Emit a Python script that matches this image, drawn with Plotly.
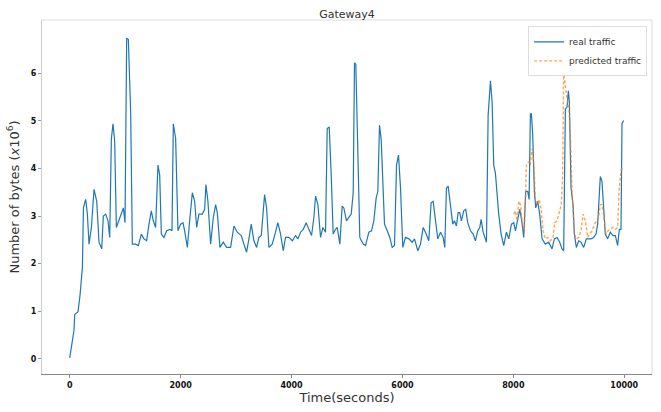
import plotly.graph_objects as go

# ---- data ----
real_t = [0, 36, 77, 90, 150, 186, 211, 229, 247, 288, 318, 348, 391, 438, 487, 528, 577, 606, 649, 690,
          721, 751, 781, 811, 841, 889, 931, 967, 997, 1027, 1057, 1099, 1129, 1189, 1237, 1291, 1339, 1387,
          1429, 1471, 1507, 1549, 1591, 1622, 1652, 1699, 1748, 1808, 1844, 1868, 1910, 1952, 2000, 2042,
          2072, 2121, 2168, 2211, 2253, 2289, 2330, 2391, 2433, 2456, 2492, 2541, 2589, 2631, 2661, 2709,
          2769, 2829, 2901, 2961, 3021, 3093, 3141, 3189, 3231, 3273, 3321, 3370, 3411, 3454, 3514, 3550,
          3592, 3652, 3711, 3753, 3802, 3850, 3892, 3952, 4013, 4073, 4114, 4163, 4211, 4264, 4312, 4361,
          4403, 4433, 4475, 4523, 4565, 4613, 4643, 4679, 4715, 4751, 4793, 4823, 4871, 4913, 4943, 4991,
          5033, 5076, 5112, 5135, 5159, 5184, 5231, 5292, 5334, 5394, 5442, 5484, 5526, 5556, 5586, 5617,
          5647, 5676, 5725, 5772, 5815, 5857, 5893, 5929, 5965, 6006, 6055, 6115, 6175, 6217, 6277, 6325,
          6373, 6415, 6475, 6517, 6553, 6595, 6637, 6686, 6734, 6763, 6793, 6824, 6865, 6907, 6937, 6973,
          7004, 7033, 7063, 7105, 7141, 7177, 7226, 7274, 7316, 7358, 7394, 7419, 7455, 7515, 7545, 7587,
          7617, 7646, 7676, 7706, 7736, 7779, 7826, 7875, 7917, 7965, 8007, 8037, 8079, 8115, 8151, 8187,
          8223, 8259, 8284, 8307, 8325, 8348, 8379, 8403, 8439, 8475, 8518, 8577, 8637, 8698, 8739, 8788,
          8835, 8878, 8907, 8938, 8968, 8992, 9010, 9040, 9076, 9100, 9136, 9178, 9221, 9268, 9316, 9358,
          9400, 9448, 9490, 9520, 9550, 9568, 9598, 9628, 9658, 9700, 9748, 9797, 9839, 9881, 9911, 9941,
          9959, 9988]
real_v = [0.02, 0.26, 0.60, 0.93, 0.99, 1.34, 1.65, 1.93, 3.17, 3.35, 3.04, 2.41, 2.76, 3.56, 3.31, 2.45, 2.31, 3.00, 3.04, 2.90,
          2.55, 4.63, 4.94, 4.56, 2.76, 2.93, 3.07, 3.17, 2.86, 6.74, 6.71, 5.18, 2.41, 2.41, 2.38, 2.62, 2.52, 2.48,
          2.83, 3.11, 2.90, 2.76, 4.07, 3.87, 2.62, 2.55, 2.69, 2.72, 2.69, 4.94, 4.63, 2.69, 2.83, 2.86,
          2.69, 2.34, 2.97, 3.49, 3.31, 2.76, 3.04, 3.04, 3.14, 3.66, 3.31, 2.41, 2.97, 3.24, 3.07, 2.34,
          2.45, 2.34, 2.34, 2.79, 2.66, 2.59, 2.41, 2.24, 2.52, 2.83, 2.48, 2.34, 2.55, 2.59, 3.45, 3.17,
          2.34, 2.41, 2.66, 2.86, 2.62, 2.27, 2.55, 2.55, 2.48, 2.59, 2.52, 2.66, 2.72, 2.86, 2.72, 2.59,
          2.97, 3.42, 3.24, 2.55, 2.76, 2.66, 4.84, 4.87, 3.87, 2.62, 2.72, 2.76, 2.41, 3.21, 3.17, 2.90,
          2.97, 3.04, 3.49, 6.22, 6.19, 5.11, 2.55, 2.41, 2.38, 2.66, 2.69, 2.90, 3.38, 3.52, 4.91, 4.60,
          3.66, 2.83, 2.69, 2.55, 2.34, 2.38, 4.07, 4.28, 3.59, 2.34, 2.55, 2.52, 2.45, 2.52, 2.27, 2.41,
          2.76, 2.66, 2.48, 3.28, 3.31, 2.90, 2.52, 2.66, 2.55, 2.34, 3.59, 3.63, 3.24, 2.83, 2.90, 2.79,
          3.07, 3.07, 2.90, 3.11, 3.14, 2.86, 2.69, 2.62, 2.48, 2.69, 2.76, 2.93, 2.66, 2.45, 5.11, 5.84,
          5.39, 4.07, 3.90, 3.45, 3.04, 2.62, 2.38, 2.66, 2.52, 2.83, 2.86, 2.69, 2.90, 3.14, 2.90, 2.55,
          3.52, 3.52, 3.35, 5.15, 5.15, 4.73, 3.52, 3.17, 3.31, 3.04, 2.52, 2.41, 2.45, 2.31, 2.52, 2.55,
          2.45, 2.31, 2.27, 5.25, 5.29, 5.63, 5.39, 3.59, 3.24, 2.62, 2.34, 2.48, 2.45, 2.34, 2.52, 2.52,
          2.52, 2.55, 2.62, 2.83, 3.38, 3.83, 3.73, 3.17, 2.62, 2.52, 2.66, 2.59, 2.59, 2.38, 2.72, 2.72,
          4.94, 5.01]

pred_t = [8007, 8037, 8067, 8097, 8127, 8163, 8199, 8235, 8277, 8307, 8337, 8367, 8397, 8427, 8469, 8505,
          8536, 8577, 8619, 8667, 8715, 8745, 8788, 8829, 8865, 8889, 8907, 8938, 8968, 8998, 9028, 9058,
          9100, 9136, 9178, 9221, 9257, 9298, 9340, 9376, 9418, 9466, 9508, 9538, 9568, 9598, 9628, 9670,
          9706, 9748, 9797, 9839, 9881, 9905, 9941, 9971]
pred_v = [3.04, 3.11, 2.90, 3.31, 3.24, 2.83, 2.66, 4.07, 4.14, 4.07, 4.42, 4.14, 3.38, 3.24, 3.35, 3.10,
          2.69, 2.52, 2.55, 2.48, 2.55, 2.86, 2.90, 3.11, 3.24, 3.87, 6.02, 5.74, 5.46, 5.32, 4.70, 3.52,
          2.62, 2.52, 2.55, 2.69, 3.04, 2.90, 2.55, 2.62, 2.69, 2.83, 2.90, 2.97, 3.24, 3.24, 3.04, 2.62,
          2.69, 2.72, 2.76, 2.72, 2.76, 3.52, 3.97, 4.00]

x_ticks = [0, 2000, 4000, 6000, 8000, 10000]
y_ticks = [0, 1, 2, 3, 4, 5, 6]

fig = go.Figure()
fig.add_trace(go.Scatter(x=real_t, y=real_v, mode="lines", name="real traffic",
                         line=dict(color="#1f77b4", width=1.2)))
fig.add_trace(go.Scatter(x=pred_t, y=pred_v, mode="lines", name="predicted traffic",
                         line=dict(color="rgba(255,127,14,0.7)", width=1.4, dash="3px,2px")))

tickfont = dict(family="DejaVu Sans", size=8, color="#111", weight="bold")
fig.update_layout(
    width=661, height=412,
    margin=dict(l=42, r=9, t=20, b=34),
    paper_bgcolor="white", plot_bgcolor="white",
    title=dict(text="Gateway4", x=0.5, xref="paper", y=1, yref="paper", yanchor="bottom",
               pad=dict(b=2), font=dict(family="DejaVu Sans", size=11, color="#333")),
    xaxis=dict(range=[-500, 10500], tickvals=x_ticks, ticktext=[str(v) for v in x_ticks],
               showgrid=False, zeroline=False, showline=True, linecolor="#888", linewidth=1.2,
               ticks="outside", ticklen=3, tickcolor="#888", tickfont=tickfont,
               title=dict(text="Time(seconds)", standoff=4,
                          font=dict(family="DejaVu Sans", size=13, color="#333"))),
    yaxis=dict(range=[-0.32, 7.12], tickvals=y_ticks, ticktext=[str(v) for v in y_ticks],
               showgrid=False, zeroline=False, showline=True, linecolor="#ccc", linewidth=1,
               ticks="outside", ticklen=3, tickcolor="#999", tickfont=tickfont,
               title=dict(text="Number of bytes (<i>x</i>10<sup>6</sup>)", standoff=8,
                          font=dict(family="DejaVu Sans", size=13, color="#333"))),
    legend=dict(x=0.992, y=0.982, xanchor="right", yanchor="top", bgcolor="white",
                bordercolor="#ddd", borderwidth=1, tracegroupgap=0, itemwidth=30,
                font=dict(family="DejaVu Sans", size=9, color="#333")),
    showlegend=True,
)
# light top/right frame
fig.add_shape(type="line", xref="paper", yref="paper", x0=0, x1=1, y0=1, y1=1,
              line=dict(color="#ddd", width=1))
fig.add_shape(type="line", xref="paper", yref="paper", x0=1, x1=1, y0=0, y1=1,
              line=dict(color="#ddd", width=1))

fig.write_html("out.html")
